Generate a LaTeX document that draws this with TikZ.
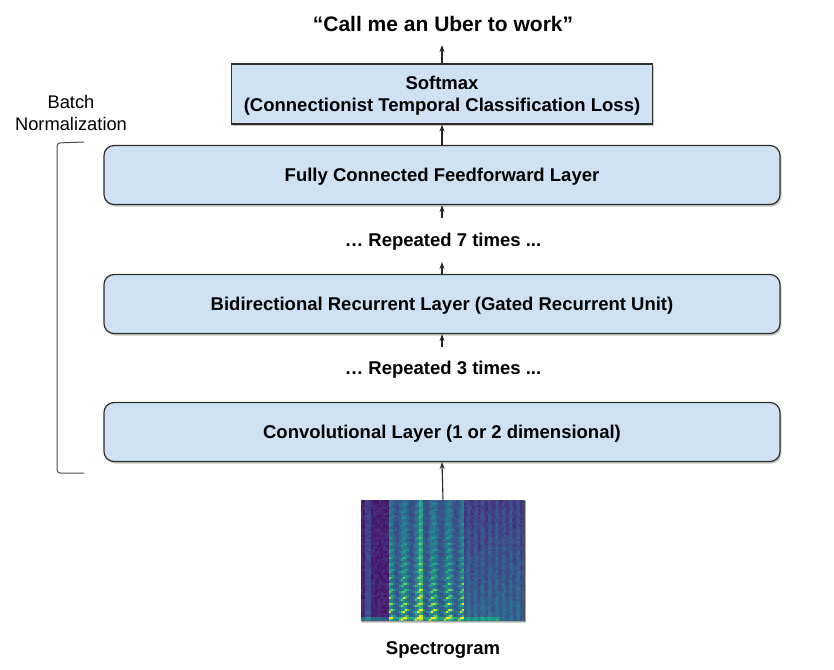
\documentclass[tikz,border=0pt]{standalone}
\usepackage{fontspec}
\setmainfont{Liberation Sans}
\usepackage{xcolor}
\usepackage{pgfplots}
\pgfplotsset{compat=1.18}
\usetikzlibrary{shadows,arrows.meta}

\definecolor{layerblue}{HTML}{CFE2F3}
\definecolor{edgegray}{HTML}{2E2E2E}

\tikzset{
  layer/.style={draw=edgegray, line width=1.2pt, fill=layerblue, rounded corners=10pt,
    minimum width=676pt, minimum height=59pt, text height=13.3pt, text depth=0pt,
    font=\fontsize{18.5}{22}\selectfont\bfseries,
    drop shadow={shadow xshift=1.5pt, shadow yshift=-2pt, opacity=0.45}},
  softbox/.style={layer, rounded corners=0pt, minimum width=421pt, minimum height=60pt, align=center,
    text height=35.3pt},
  reptext/.style={font=\fontsize{18.5}{22}\selectfont\bfseries, text height=13.3pt, text depth=0pt},
  outtext/.style={font=\fontsize{21}{25}\selectfont\bfseries, text height=15pt, text depth=0pt},
  bntext/.style={font=\fontsize{18.3}{22}\selectfont, align=center},
  specframe/.style={draw=gray!70, line width=0.6pt, fill=black!70, minimum width=164pt, minimum height=121pt,
    inner sep=0pt, drop shadow={shadow xshift=1.2pt, shadow yshift=-1.5pt, opacity=0.35}},
  link/.style={->, line width=1.1pt, black!85}
}

\begin{document}
\begin{tikzpicture}[x=1pt, y=-1pt, >={Stealth[length=7pt,width=5pt]}]
    % Fix the page size
    \useasboundingbox (0,0) rectangle (834,669);

    % Draw the output sentence and the softmax box
    \node[outtext] (out) at (443,24.5) {“Call me an Uber to work”};
    \node[softbox] (softmax) at (442,94) {Softmax\\(Connectionist Temporal Classification Loss)};

    % Draw the stacked layers
    \node[layer] (fc) at (442,175) {Fully Connected Feedforward Layer};
    \node[reptext] (rep7) at (443,240) {… Repeated 7 times ...};
    \node[layer] (brl) at (442,304) {Bidirectional Recurrent Layer (Gated Recurrent Unit)};
    \node[reptext] (rep3) at (443,368) {… Repeated 3 times ...};
    \node[layer] (conv) at (442,432) {Convolutional Layer (1 or 2 dimensional)};

    % Draw the batch normalization bracket
    \node[bntext] (bn) at (71,113) {Batch\\Normalization};
    \draw[gray!60!black, line width=1pt, rounded corners=3pt] (84,142) -- (57,143) -- (57,473) -- (84,473);

    % Draw the spectrogram
    \node[specframe] (spec) at (443,560.5) {};
    \begin{axis}[at={(spec.north west)}, anchor=north west, width=164pt, height=121pt,
        scale only axis, hide axis, view={0}{90}, colormap/viridis,
        point meta min=0, point meta max=1, xmin=0, xmax=1, ymin=0, ymax=1, enlargelimits=false]
      \addplot3[surf, shader=flat corner, domain=0:1, y domain=0:1, samples=82, samples y=61]
        {min(1, 0.09 + 0.05*rand
          + 0.16*(abs(x-0.035)<0.015)*(1-0.5*y)
          + (x>0.62)*(0.24*(1-0.6*y) + 0.05*cos(deg(2*pi*x*23)))
          + 0.22*(y<0.025)*(x<0.85)
          + 0.22*(abs(x-0.36)<0.012)
          + (x>0.17)*(x<0.62)*(0.1 + (0.6+0.4*cos(deg(2*pi*(x-0.17)/0.09)))
            *(0.28*(1-0.4*y) + 0.75*pow(0.5+0.5*cos(deg(2*pi*(18*y - 0.5*abs(sin(deg(180*(x-0.17)/0.09)))))),3)*exp(-2.2*y)))};
    \end{axis}
    \node[reptext] (speclabel) at (443,648) {Spectrogram};

    % Draw the arrows
    \coordinate (outtip) at (442,45);
    \coordinate (tail7) at (442,218);
    \coordinate (tip7) at (442,262);
    \coordinate (tail3) at (442,347);
    \draw[link] (softmax.north) -- (outtip);
    \draw[link] (fc.north) -- (softmax.south);
    \draw[link] (tail7) -- (fc.south);
    \draw[link] (brl.north) -- (tip7);
    \draw[link] (tail3) -- (brl.south);
    \draw[link] (spec.north) -- (conv.south);
\end{tikzpicture}
\end{document}
